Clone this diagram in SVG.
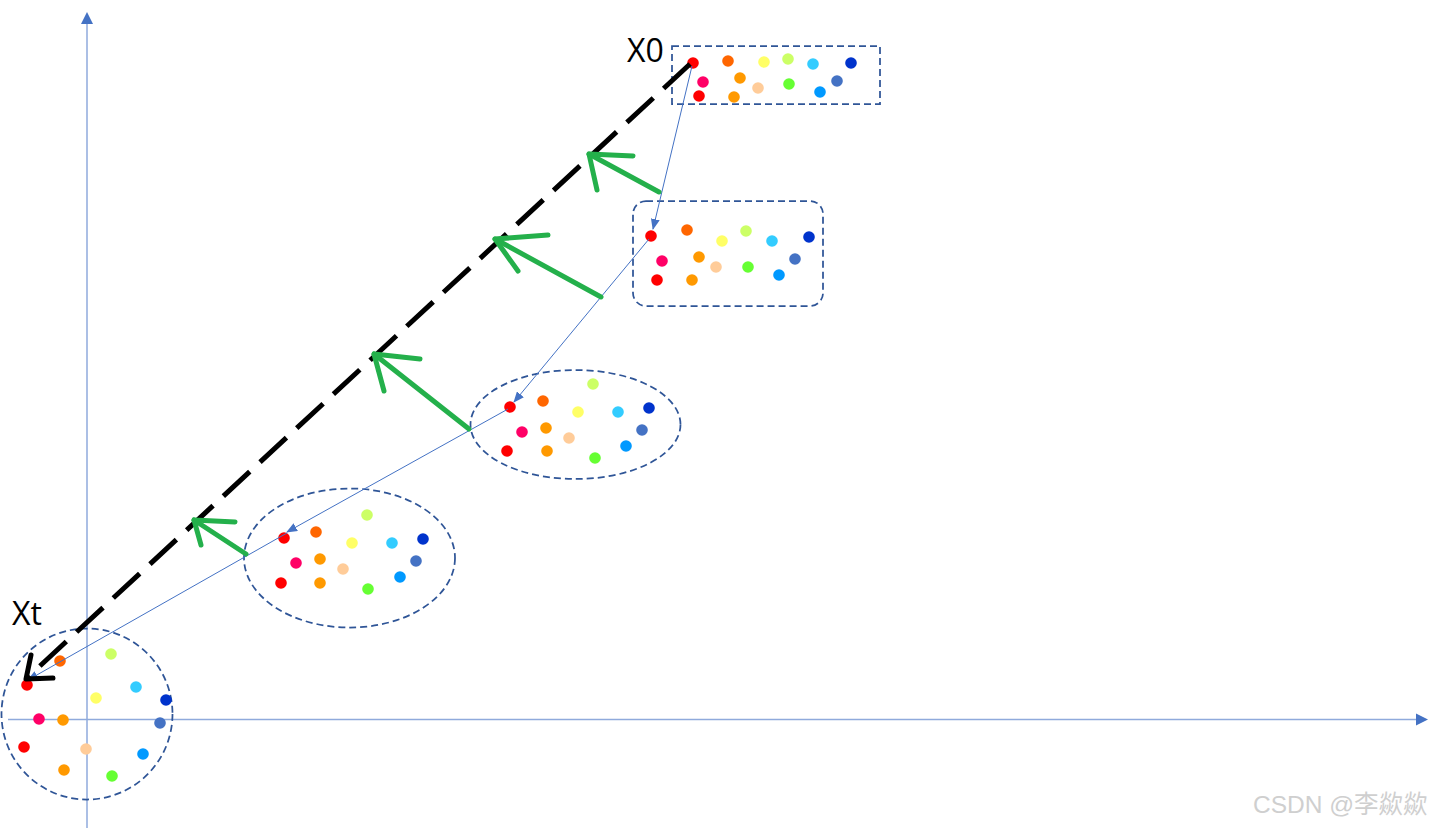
<svg xmlns="http://www.w3.org/2000/svg" width="1440" height="830" viewBox="0 0 1440 830">
<style>
.bg{fill:#ffffff}
.axis{stroke:#8FAADC;stroke-width:1.5;fill:none}
.box{fill:none;stroke:#2F5597;stroke-width:1.75;stroke-dasharray:7 4}
.conn{stroke:#4472C4;stroke-width:1;fill:none}
.big{stroke:#000;stroke-width:5;fill:none;stroke-dasharray:36 14}
.bighead{stroke:#000;stroke-width:5;fill:none;stroke-linecap:round;stroke-linejoin:round}
.grn{stroke:#24B04B;stroke-width:5;fill:none;stroke-linecap:round;stroke-linejoin:round}
.lbl{font-family:"Open Sans","Liberation Sans",sans-serif;font-size:32px;fill:#000}
.wm{font-family:"Liberation Sans","Noto Sans CJK SC",sans-serif;font-size:24.5px;fill:#cfcfcf}
.c1{fill:#FF0000}.c2{fill:#FF6600}.c3{fill:#FFFF66}.c4{fill:#CCFF66}.c5{fill:#33CCFF}.c6{fill:#0033CC}
.c7{fill:#FF0066}.c8{fill:#FF9900}.c9{fill:#FFCC99}.c10{fill:#66FF33}.c11{fill:#0099FF}.c12{fill:#4472C4}
</style>
<defs>
<marker id="tri" markerWidth="11" markerHeight="9" refX="10" refY="4.5" orient="auto" markerUnits="userSpaceOnUse">
<path d="M0,0 L11,4.5 L0,9 Z" fill="#4472C4"/>
</marker>
</defs>
<rect class="bg" x="0" y="0" width="1440" height="830"/>
<g id="axes">
<line class="axis" x1="87" y1="828" x2="87" y2="20"/>
<path d="M81,24 L87,12 L93,24 Z" fill="#4472C4"/>
<line class="axis" x1="8" y1="719.5" x2="1418" y2="719.5"/>
<path d="M1416,713.5 L1428,719.5 L1416,725.5 Z" fill="#4472C4"/>
</g>
<g id="node-x0">
<rect class="box" x="672" y="46" width="208" height="58"/>
<text class="lbl" x="627" y="62">X0</text>
<circle class="c1" cx="693" cy="63" r="5.8"/>
<circle class="c2" cx="728" cy="61" r="5.8"/>
<circle class="c3" cx="764" cy="62" r="5.8"/>
<circle class="c4" cx="788" cy="59" r="5.8"/>
<circle class="c5" cx="813" cy="64" r="5.8"/>
<circle class="c6" cx="851" cy="63" r="5.8"/>
<circle class="c7" cx="703" cy="82" r="5.8"/>
<circle class="c8" cx="740" cy="78" r="5.8"/>
<circle class="c9" cx="758" cy="88" r="5.8"/>
<circle class="c10" cx="789" cy="84" r="5.8"/>
<circle class="c11" cx="820" cy="92" r="5.8"/>
<circle class="c12" cx="837" cy="81" r="5.8"/>
<circle class="c1" cx="699" cy="96" r="5.8"/>
<circle class="c8" cx="734" cy="97" r="5.8"/>
</g>
<g id="node-2">
<rect class="box" x="633" y="201" width="190" height="105" rx="13"/>
<circle class="c1" cx="651" cy="236" r="5.8"/>
<circle class="c2" cx="687" cy="230" r="5.8"/>
<circle class="c3" cx="722" cy="241" r="5.8"/>
<circle class="c4" cx="746" cy="231" r="5.8"/>
<circle class="c5" cx="772" cy="241" r="5.8"/>
<circle class="c6" cx="809" cy="237" r="5.8"/>
<circle class="c7" cx="662" cy="261" r="5.8"/>
<circle class="c8" cx="699" cy="257" r="5.8"/>
<circle class="c9" cx="716" cy="267" r="5.8"/>
<circle class="c10" cx="748" cy="267" r="5.8"/>
<circle class="c11" cx="779" cy="275" r="5.8"/>
<circle class="c12" cx="795" cy="259" r="5.8"/>
<circle class="c1" cx="657" cy="280" r="5.8"/>
<circle class="c8" cx="692" cy="280" r="5.8"/>
</g>
<g id="node-3">
<ellipse class="box" cx="575.5" cy="424.5" rx="105" ry="54.5"/>
<circle class="c1" cx="510" cy="407" r="5.8"/>
<circle class="c2" cx="543" cy="401" r="5.8"/>
<circle class="c3" cx="578" cy="412" r="5.8"/>
<circle class="c4" cx="593" cy="384" r="5.8"/>
<circle class="c5" cx="618" cy="412" r="5.8"/>
<circle class="c6" cx="649" cy="408" r="5.8"/>
<circle class="c7" cx="522" cy="432" r="5.8"/>
<circle class="c8" cx="546" cy="428" r="5.8"/>
<circle class="c9" cx="569" cy="438" r="5.8"/>
<circle class="c10" cx="595" cy="458" r="5.8"/>
<circle class="c11" cx="626" cy="446" r="5.8"/>
<circle class="c12" cx="642" cy="430" r="5.8"/>
<circle class="c1" cx="507" cy="451" r="5.8"/>
<circle class="c8" cx="547" cy="451" r="5.8"/>
</g>
<g id="node-4">
<ellipse class="box" cx="349.5" cy="558" rx="105.5" ry="69.5"/>
<circle class="c1" cx="284" cy="538" r="5.8"/>
<circle class="c2" cx="316" cy="532" r="5.8"/>
<circle class="c3" cx="352" cy="543" r="5.8"/>
<circle class="c4" cx="367" cy="515" r="5.8"/>
<circle class="c5" cx="392" cy="543" r="5.8"/>
<circle class="c6" cx="423" cy="539" r="5.8"/>
<circle class="c7" cx="296" cy="563" r="5.8"/>
<circle class="c8" cx="320" cy="559" r="5.8"/>
<circle class="c9" cx="343" cy="569" r="5.8"/>
<circle class="c10" cx="368" cy="589" r="5.8"/>
<circle class="c11" cx="400" cy="577" r="5.8"/>
<circle class="c12" cx="416" cy="561" r="5.8"/>
<circle class="c1" cx="281" cy="583" r="5.8"/>
<circle class="c8" cx="320" cy="583" r="5.8"/>
</g>
<g id="node-xt">
<circle class="box" cx="87" cy="714" r="85.5"/>
<text class="lbl" x="12" y="625">Xt</text>
<circle class="c1" cx="27" cy="685" r="5.8"/>
<circle class="c2" cx="60" cy="661" r="5.8"/>
<circle class="c3" cx="96" cy="698" r="5.8"/>
<circle class="c4" cx="111" cy="654" r="5.8"/>
<circle class="c5" cx="136" cy="687" r="5.8"/>
<circle class="c6" cx="166" cy="700" r="5.8"/>
<circle class="c7" cx="39" cy="719" r="5.8"/>
<circle class="c8" cx="63" cy="720" r="5.8"/>
<circle class="c9" cx="86" cy="749" r="5.8"/>
<circle class="c10" cx="112" cy="776" r="5.8"/>
<circle class="c11" cx="143" cy="754" r="5.8"/>
<circle class="c12" cx="160" cy="723" r="5.8"/>
<circle class="c1" cx="24" cy="747" r="5.8"/>
<circle class="c8" cx="64" cy="770" r="5.8"/>
</g>
<g id="connectors">
<line class="conn" x1="692" y1="66" x2="653" y2="229" marker-end="url(#tri)"/>
<line class="conn" x1="649" y1="239" x2="514" y2="402" marker-end="url(#tri)"/>
<line class="conn" x1="508" y1="409" x2="287" y2="532" marker-end="url(#tri)"/>
<line class="conn" x1="287" y1="533" x2="28" y2="680" marker-end="url(#tri)"/>
<line class="big" x1="690" y1="64" x2="28" y2="677"/>
<polyline class="bighead" points="31,655 26,679 53,678"/>
<polyline class="grn" points="659,192 589,154"/>
<polyline class="grn" points="633,156 589,154 597,190"/>
<polyline class="grn" points="601,297 495,239"/>
<polyline class="grn" points="548,235 495,239 518,271"/>
<polyline class="grn" points="469,429 374,354"/>
<polyline class="grn" points="420,359 374,354 384,391"/>
<polyline class="grn" points="246,554 194,520"/>
<polyline class="grn" points="235,522 194,520 201,545"/>
</g>
<text class="wm" x="1253" y="813">CSDN @李歘歘</text>
</svg>
